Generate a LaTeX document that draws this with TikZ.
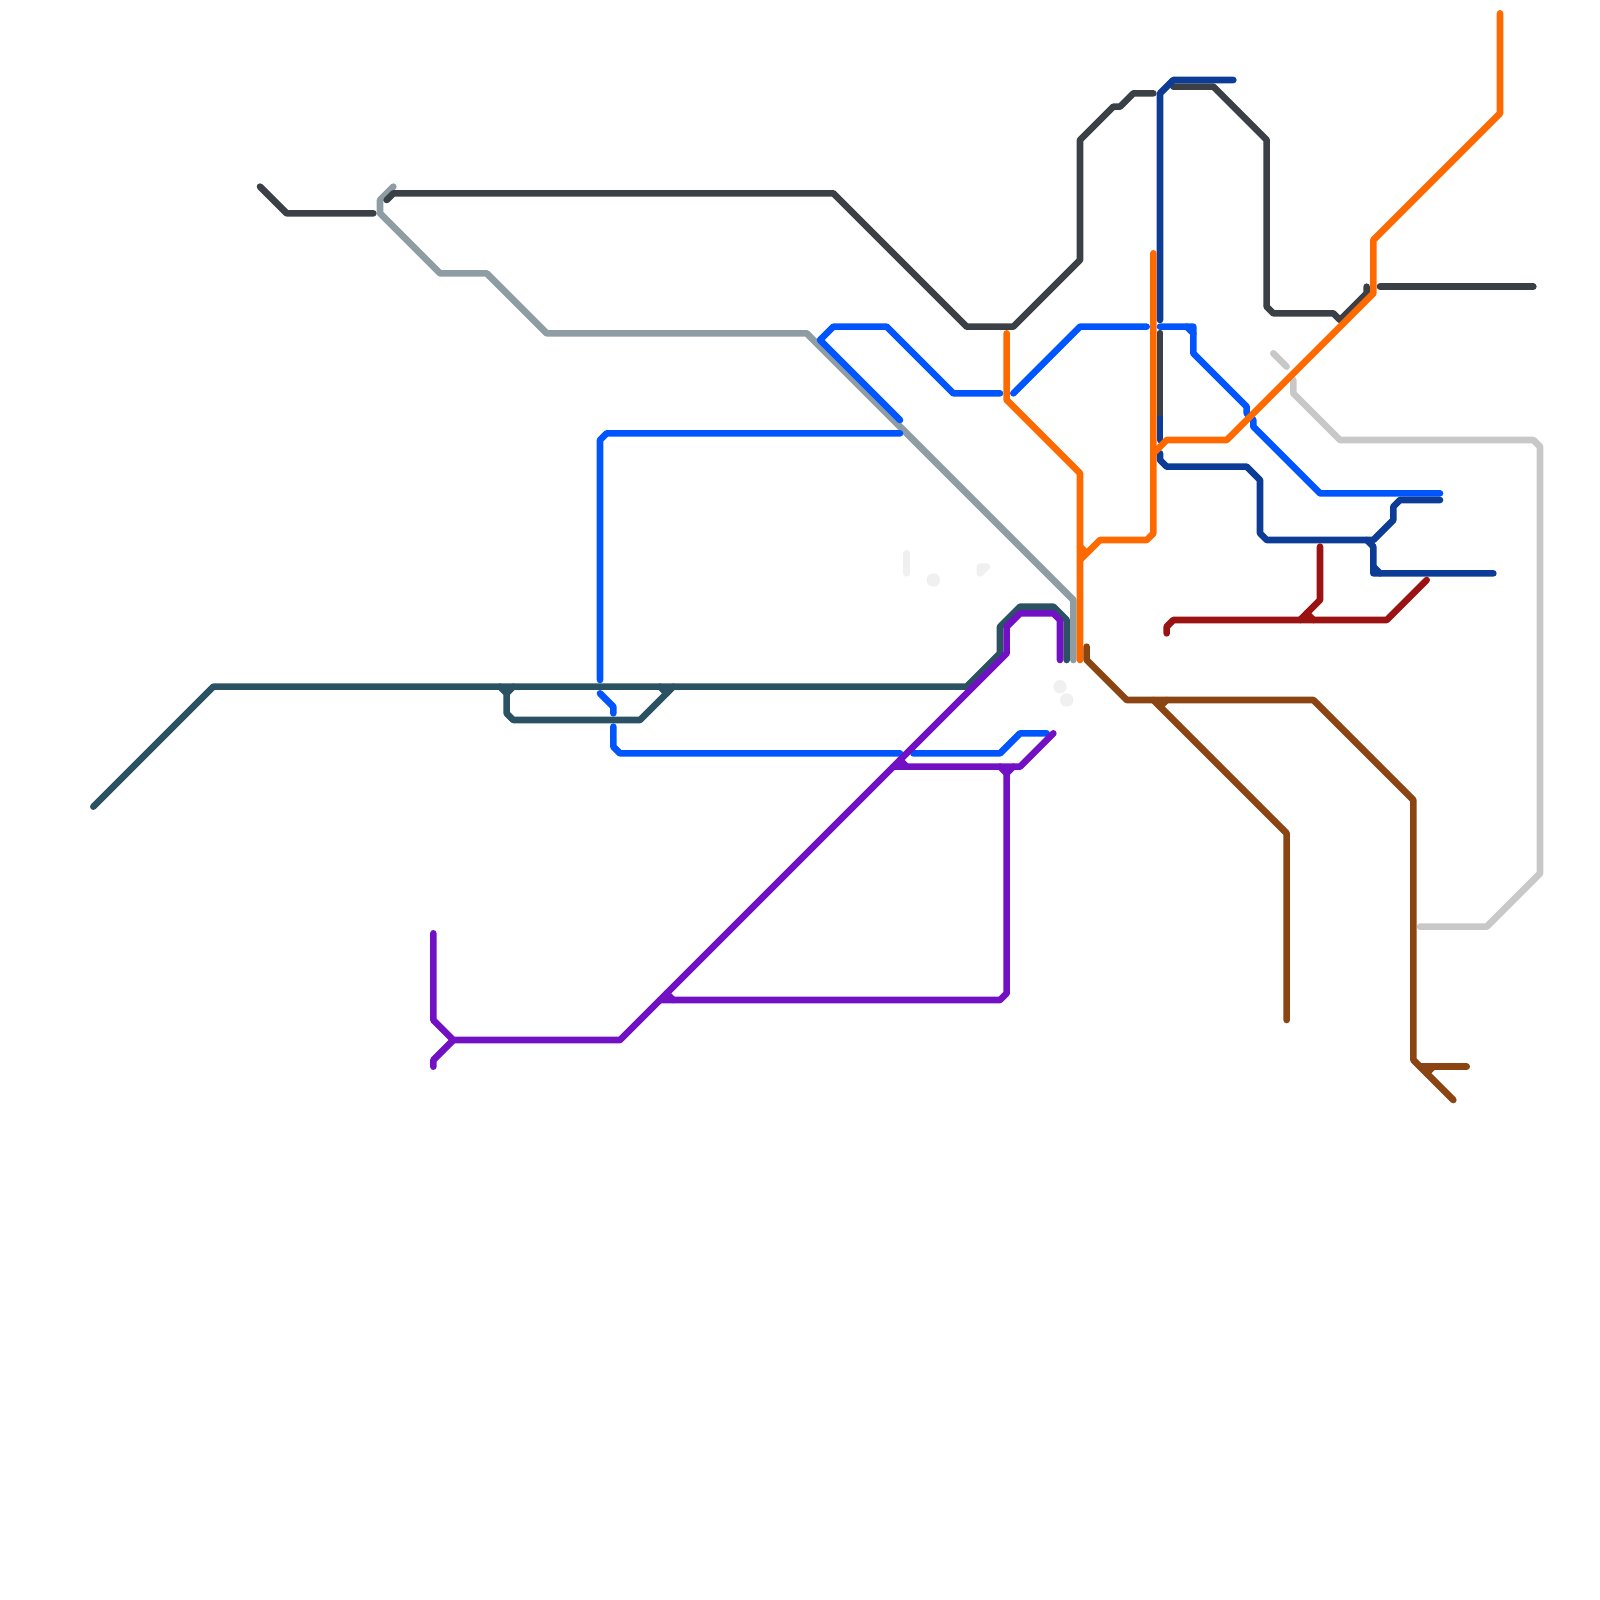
\documentclass[tikz,border=0pt]{standalone}
\definecolor{cteal}{HTML}{2A5263}
\definecolor{cpurple}{HTML}{7210C4}
\definecolor{cblue}{HTML}{0055FF}
\definecolor{cnavy}{HTML}{0D3C96}
\definecolor{corange}{HTML}{FF6A00}
\definecolor{cdark}{HTML}{3B3F46}
\definecolor{cgrey}{HTML}{8E9CA3}
\definecolor{clight}{HTML}{C8C8C8}
\definecolor{cfaint}{HTML}{F0F0F0}
\definecolor{cred}{HTML}{9A1212}
\definecolor{cbrown}{HTML}{8B4513}
\tikzset{
  metro/.style={line width=3.3pt,line cap=round,line join=round},
  teal line/.style={metro,draw=cteal},
  purple line/.style={metro,draw=cpurple},
  blue line/.style={metro,draw=cblue},
  navy line/.style={metro,draw=cnavy},
  orange line/.style={metro,draw=corange},
  dark line/.style={metro,draw=cdark},
  grey line/.style={metro,draw=cgrey},
  light line/.style={metro,draw=clight},
  faint line/.style={metro,draw=cfaint},
  red line/.style={metro,draw=cred},
  brown line/.style={metro,draw=cbrown},
}
\begin{document}
\begin{tikzpicture}[x=3.33333pt,y=-3.33333pt]
\useasboundingbox (0,0) rectangle (240,240);
\fill[white] (0,0) rectangle (240,240);
% faint marks
\draw[faint line] (136,83)--(136,86);
\fill[cfaint] (140,87) circle (1);
\fill[cfaint] (159,103) circle (1);
\fill[cfaint] (160,105) circle (1);
\draw[faint line,fill=cfaint] (147,86)--(147,85)--(148,85)--cycle;
% grey
\draw[grey line] (59,28)--(57,30)--(57,32)--(66,41)--(73,41)--(82,50)--(121,50)--(161,90)--(161,99);
% light
\draw[light line] (191,53)--(193,55);
\draw[light line] (194,57)--(194,59)--(201,66)--(230,66)--(231,67)--(231,131)--(223,139)--(213,139);
% dark
\draw[dark line] (39,28)--(43,32)--(56,32);
\draw[dark line] (58,30)--(59,29)--(125,29)--(145,49)--(152,49)--(162,39)--(162,21)--(167,16)--(168,16)--(170,14)--(173,14);
\draw[dark line] (176,13)--(182,13)--(190,21)--(190,46)--(191,47)--(200,47)--(201,48)--(205,44)--(205,43);
\draw[dark line] (207,43)--(230,43);
% blue
\draw[blue line] (90,102)--(90,66)--(91,65)--(135,65);
\draw[blue line] (90,104)--(92,106)--(92,107);
\draw[blue line] (92,109)--(92,112)--(93,113)--(135,113);
\draw[blue line] (137,113)--(150,113)--(153,110)--(157,110);
\draw[blue line] (135,63)--(123,51)--(125,49)--(133,49)--(143,59)--(150,59);
\draw[blue line] (152,59)--(162,49)--(172,49);
\draw[blue line] (174,49)--(179,49)--(179,53)--(187,61)--(187,62)--(188,63)--(188,64)--(198,74)--(216,74);
\draw[blue line] (178,49)--(179,50);
% navy
\draw[navy line] (185,12)--(176,12)--(174,14)--(174,48);
\draw[navy line] (174,50)--(174,66);
\draw[dark line] (174,50)--(174,62);
\draw[navy line] (174,68)--(174,69)--(175,70)--(187,70)--(189,72)--(189,80)--(190,81)--(206,81)--(209,78)--(209,76)--(210,75)--(216,75);
\draw[navy line] (205,81)--(206,82)--(206,86)--(224,86);
\draw[navy line] (206,85)--(207,86);
% red
\draw[red line] (175,95)--(175,94)--(176,93)--(208,93)--(214,87);
\draw[red line] (198,82)--(198,90)--(195,93);
\draw[red line] (196,92)--(197,93);
% orange
\draw[orange line] (225,2)--(225,17)--(206,36)--(206,44)--(184,66)--(175,66)--(173,68);
\draw[orange line] (173,38)--(173,80)--(172,81)--(165,81)--(162,84);
\draw[orange line] (151,50)--(151,60)--(162,71)--(162,99);
\draw[orange line] (162,82)--(163,83);
% teal
\draw[teal line] (14,121)--(32,103)--(145,103)--(150,98)--(150,94)--(153,91)--(158,91)--(160,93)--(160,99);
\draw[teal line] (75,103)--(76,104)--(76,107)--(77,108)--(96,108)--(101,103);
\draw[teal line] (77,103)--(76,104);
\draw[teal line] (99,103)--(100,104);
% purple
\draw[purple line] (65,140)--(65,153)--(68,156)--(93,156)--(151,98)--(151,94)--(153,92)--(158,92)--(159,93)--(159,99);
\draw[purple line] (65,160)--(65,159)--(68,156);
\draw[purple line] (134,115)--(153,115)--(158,110);
\draw[purple line] (135,114)--(136,115);
\draw[purple line] (150,115)--(151,116)--(152,115);
\draw[purple line] (151,116)--(151,149)--(150,150)--(99,150);
\draw[purple line] (100,149)--(101,150);
% brown
\draw[brown line] (163,97)--(163,99)--(169,105)--(197,105)--(212,120)--(212,159)--(218,165);
\draw[brown line] (213,160)--(220,160);
\draw[brown line] (214,161)--(215,160);
\draw[brown line] (173,105)--(193,125)--(193,153);
\draw[brown line] (174,106)--(175,105);
\end{tikzpicture}
\end{document}
